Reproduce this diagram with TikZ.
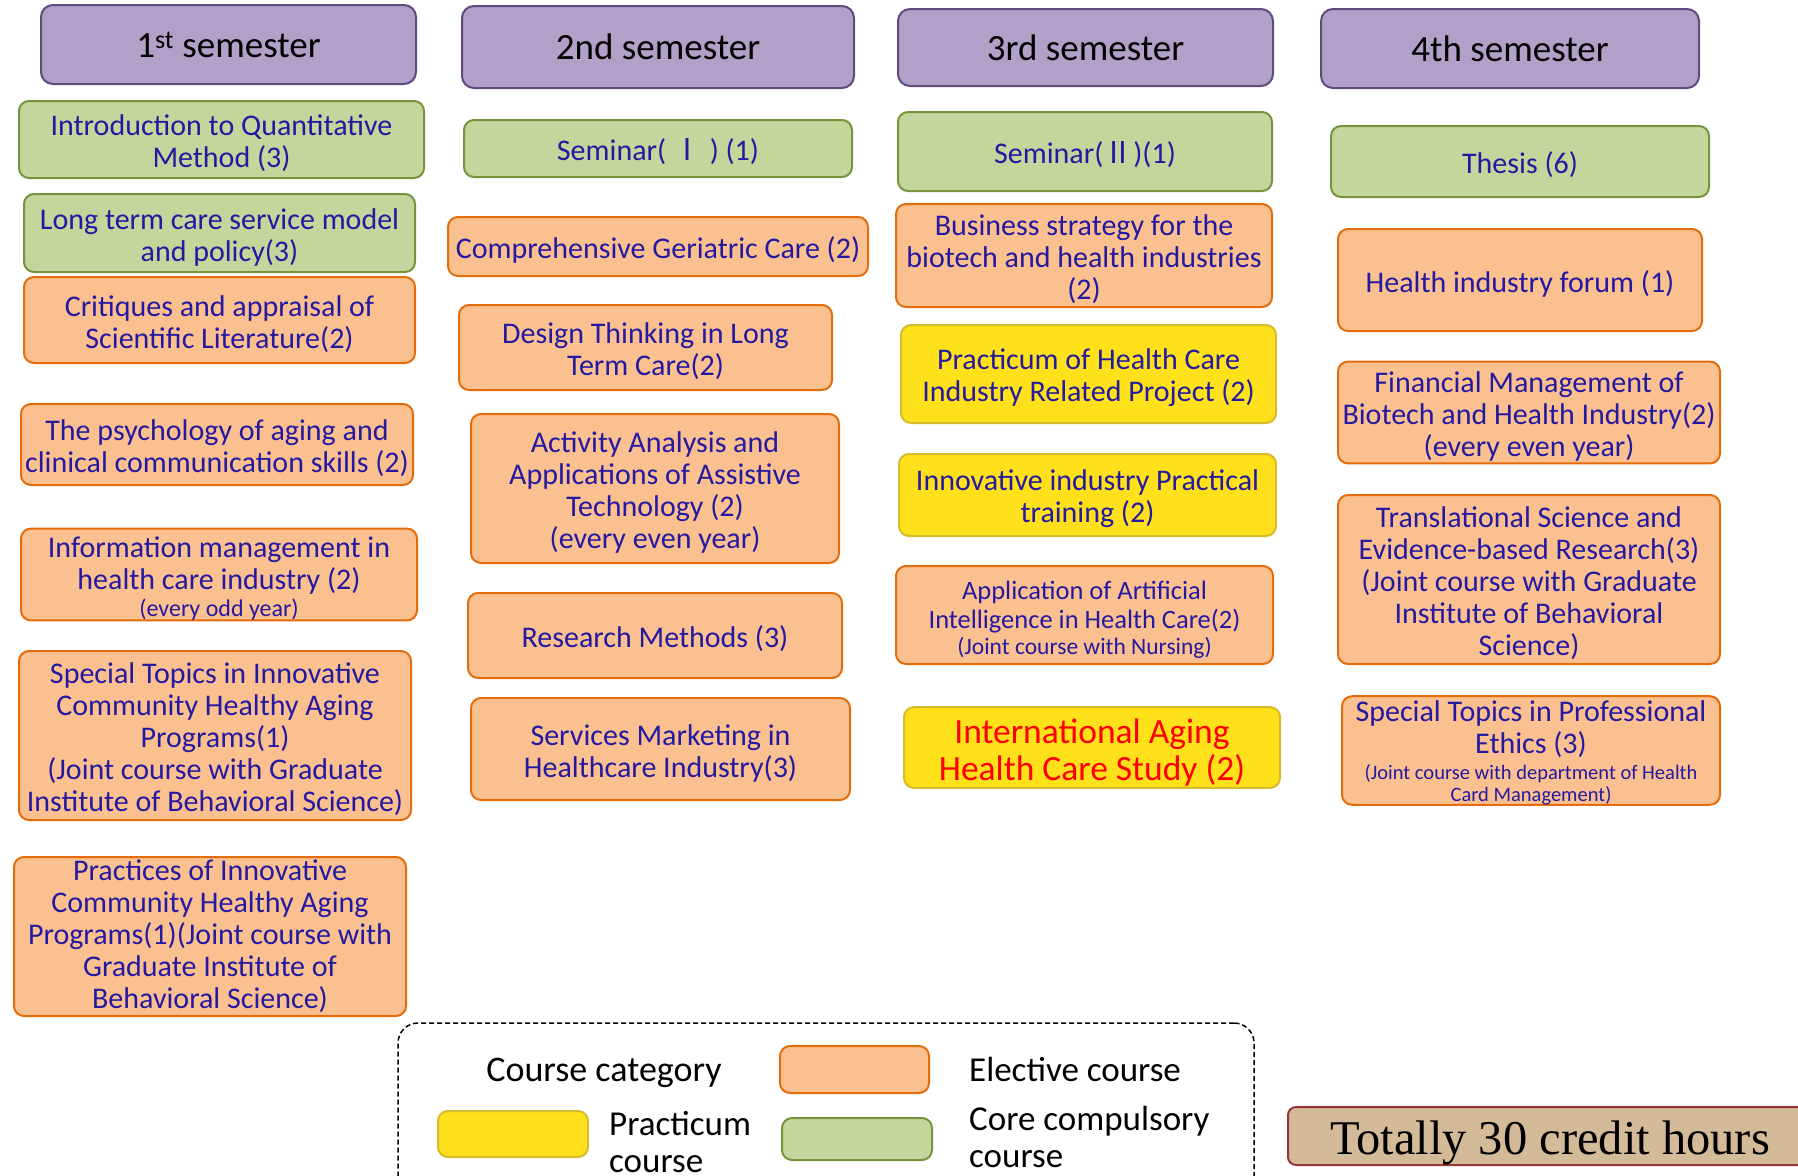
\documentclass[tikz,border=0pt]{standalone}
\usepackage{fontspec}
\setmainfont{Carlito}
\newfontfamily\timesf{Liberation Serif}
\newfontfamily\cjkf{Noto Sans CJK TC}
\usetikzlibrary{positioning}

\definecolor{semfill}{HTML}{B1A0C7}
\definecolor{semline}{HTML}{5F4B7E}
\definecolor{corefill}{HTML}{C3D69B}
\definecolor{coreline}{HTML}{77933C}
\definecolor{elecfill}{HTML}{FAC090}
\definecolor{elecline}{HTML}{E46C0A}
\definecolor{pracfill}{HTML}{FEE11A}
\definecolor{pracline}{HTML}{D4BC2A}
\definecolor{totfill}{HTML}{D3BA98}
\definecolor{totline}{HTML}{953735}
\definecolor{crstext}{HTML}{2419A0}

\newcommand{\note}{\fontsize{24}{26}\selectfont}
\newcommand{\smallnote}{\fontsize{20.5}{22}\selectfont}
\newcommand{\fl}[1][29pt]{\rule{0pt}{#1}}

\tikzset{
  course/.style={rounded corners=10pt, line width=2pt, align=center, text=crstext, font=\fontsize{30}{32}\selectfont, inner sep=2pt, execute at begin node={\rule{0pt}{29pt}}},
  sem/.style={draw=semline, fill=semfill, rounded corners=12pt, line width=2pt, font=\fontsize{37}{44}\selectfont},
  core/.style={course, draw=coreline, fill=corefill},
  elec/.style={course, draw=elecline, fill=elecfill},
  prac/.style={course, draw=pracline, fill=pracfill},
  legtext/.style={font=\fontsize{35}{37}\selectfont, inner sep=0pt},
}

\begin{document}
\begin{tikzpicture}[x=1pt,y=-1pt]
\useasboundingbox (0,0) rectangle (1798,1175);
\clip (0,0) rectangle (1798,1175);

\node[sem, minimum width=375, minimum height=79] at (228.5,44.5) (s1) {1\textsuperscript{st} semester};
\node[core, minimum width=405, minimum height=77] at (221.5,139.5) (c11) {\fl Introduction to Quantitative\\Method (3)};
\node[core, minimum width=391, minimum height=78] at (219.5,233) (c12) {\fl Long term care service model\\and policy(3)};
\node[elec, minimum width=391, minimum height=86] at (219.5,320) (c13) {\fl Critiques and appraisal of\\Scientific Literature(2)};
\node[elec, minimum width=392, minimum height=81] at (217,444.5) (c14) {\fl The psychology of aging and\\clinical communication skills (2)};
\node[elec, minimum width=396, minimum height=89, inner ysep=0pt] at (219,574.5) (c15) {\fl Information management in\\health care industry (2)\\[-5pt]{\note (every odd year)}};
\node[elec, minimum width=392, minimum height=169] at (215,735.5) (c16) {\fl Special Topics in Innovative\\Community Healthy Aging\\Programs(1)\\(Joint course with Graduate\\Institute of Behavioral Science)};
\node[elec, minimum width=392, minimum height=159, inner ysep=0pt] at (210,936.5) (c17) {Practices of Innovative\\Community Healthy Aging\\Programs(1)(Joint course with\\Graduate Institute of\\Behavioral Science)};

\node[sem, minimum width=392, minimum height=82] at (658,47) (s2) {2nd semester};
\node[core, minimum width=388, minimum height=57] at (658,148.5) (c21) {Seminar( {\cjkf Ⅰ} ) (1)};
\node[elec, minimum width=420, minimum height=59] at (658,246.5) (c22) {Comprehensive Geriatric Care (2)};
\node[elec, minimum width=373, minimum height=85] at (645.5,347.5) (c23) {\fl Design Thinking in Long\\Term Care(2)};
\node[elec, minimum width=368, minimum height=149] at (655,488.5) (c24) {\fl Activity Analysis and\\Applications of Assistive\\Technology (2)\\(every even year)};
\node[elec, minimum width=374, minimum height=85] at (655,635.5) (c25) {Research Methods (3)};
\node[elec, minimum width=379, minimum height=102] at (660.5,749) (c26) {\fl Services Marketing in\\Healthcare Industry(3)};

\node[sem, minimum width=375, minimum height=77] at (1085.5,47.5) (s3) {3rd semester};
\node[core, minimum width=374, minimum height=79] at (1085,151.5) (c31) {Seminar({\cjkf Ⅱ})(1)};
\node[elec, minimum width=376, minimum height=103] at (1084,255.5) (c32) {\fl Business strategy for the\\biotech and health industries\\(2)};
\node[prac, minimum width=375, minimum height=98] at (1088.5,374) (c33) {\fl Practicum of Health Care\\Industry Related Project (2)};
\node[prac, minimum width=377, minimum height=82] at (1087.5,495) (c34) {\fl Innovative industry Practical\\training (2)};
\node[elec, minimum width=377, minimum height=98, font=\fontsize{26.5}{29}\selectfont] at (1084.5,615) (c35) {\fl Application of Artificial\\Intelligence in Health Care(2)\\[-3pt]{\fontsize{23.5}{25}\selectfont (Joint course with Nursing)}};
\node[prac, minimum width=376, minimum height=79, text=red, font=\fontsize{35.5}{37}\selectfont] at (1092,747.5) (c36) {\fl[34pt]International Aging\\Health Care Study (2)};

\node[sem, minimum width=378, minimum height=79] at (1510,48.5) (s4) {4th semester};
\node[core, minimum width=378, minimum height=71] at (1520,161.5) (c41) {Thesis (6)};
\node[elec, minimum width=364, minimum height=102] at (1520,280) (c42) {Health industry forum (1)};
\node[elec, minimum width=382, minimum height=101] at (1529,412.5) (c43) {\fl Financial Management of\\Biotech and Health Industry(2)\\(every even year)};
\node[elec, minimum width=382, minimum height=169] at (1529,579.5) (c44) {\fl Translational Science and\\Evidence-based Research(3)\\(Joint course with Graduate\\Institute of Behavioral\\Science)};
\node[elec, minimum width=378, minimum height=107, inner ysep=0pt] at (1531,750.5) (c45) {\fl[25pt]Special Topics in Professional\\Ethics (3)\\[-6pt]{\smallnote (Joint course with department of Health}\\[-10pt]{\smallnote Card Management)}};

\node[draw, line width=1.5pt, rounded corners=20pt, dash pattern=on 5pt off 3pt, minimum width=856, minimum height=180] at (826,1113) (leg) {};
\node[legtext, font=\fontsize{36}{37}\selectfont] at (604,1073) (lcat) {Course category};
\node[elec, minimum width=149, minimum height=47] at (854.5,1069.5) (lelec) {};
\node[legtext, anchor=west] at (969,1069) (telec) {Elective course};
\node[prac, minimum width=150, minimum height=46] at (513,1134) (lprac) {};
\node[legtext, anchor=west, align=left] at (609,1142) (tprac) {Practicum\\course};
\node[core, minimum width=150, minimum height=42] at (857,1139) (lcore) {};
\node[legtext, anchor=west, align=left] at (969,1137) (tcore) {Core compulsory\\course};

\node[draw=totline, fill=totfill, line width=2pt, rounded corners=8pt, minimum width=524, minimum height=58, text height=40pt, text depth=3.6pt, font=\timesf\fontsize{48.5}{56}\selectfont] at (1550,1136) (tot) {Totally 30 credit hours};
\end{tikzpicture}
\end{document}
